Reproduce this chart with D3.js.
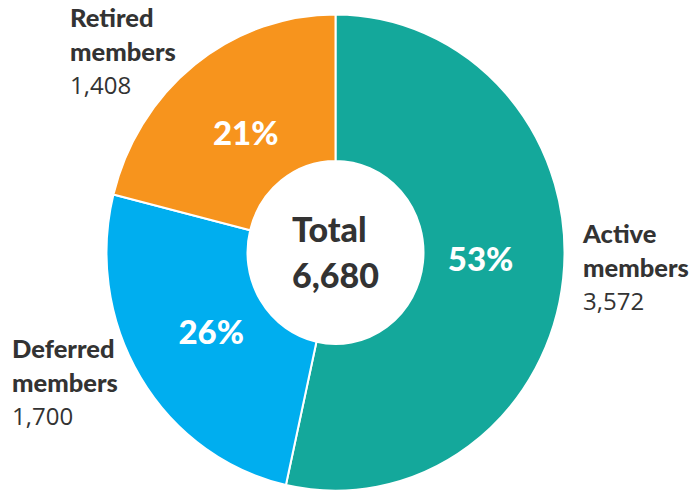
<!DOCTYPE html>
<html>
<head>
<meta charset="utf-8">
<script src="https://cdn.jsdelivr.net/npm/d3@7"></script>
<style>
  html, body { margin: 0; padding: 0; background: #fff; }
  svg { display: block; font-family: Lato, "Open Sans", sans-serif; }
</style>
</head>
<body>
<svg id="chart" width="693" height="492"></svg>
<script>
// ---- data ----
const categories = ["Active members", "Deferred members", "Retired members"];
const values = [3572, 1700, 1408];
const percentLabels = ["53%", "26%", "21%"];
const valueLabels = ["3,572", "1,700", "1,408"];
const colors = ["#14a89b", "#00aeef", "#f7941d"];
const totalLabel = ["Total", "6,680"];

// ---- layout ----
const svg = d3.select("#chart");
const cx = 335.5, cy = 252.5, sy = 1.04;
const outerR = 229, innerR = 88;

const pie = d3.pie().sort(null).value(d => d)(values);
const arc = d3.arc().innerRadius(innerR).outerRadius(outerR);
const labelArc = d3.arc().innerRadius(146).outerRadius(146);

const g = svg.append("g").attr("transform", `translate(${cx},${cy}) scale(1,${sy})`);
g.selectAll("path").data(pie).join("path")
  .attr("d", arc)
  .attr("fill", (d, i) => colors[i])
  .attr("stroke", "#fff")
  .attr("stroke-width", 2)
  .attr("stroke-linejoin", "round");

// percent labels
svg.append("g").selectAll("text").data(pie).join("text")
  .attr("x", d => cx + labelArc.centroid(d)[0])
  .attr("y", (d, i) => cy + labelArc.centroid(d)[1] * sy - (i === 0 ? 10 : 0))
  .attr("text-anchor", "middle")
  .attr("dy", "0.36em")
  .attr("fill", "#fff")
  .attr("font-weight", 900)
  .attr("font-size", 33)
  .text((d, i) => percentLabels[i]);

// center total
const tg = svg.append("g").attr("fill", "#333333").attr("font-weight", 900).attr("font-size", 34);
tg.append("text").attr("x", 292).attr("y", 242).text(totalLabel[0]);
tg.append("text").attr("x", 292).attr("y", 288).text(totalLabel[1]);

// category labels
const labelPos = [
  { x: 583, y: 243 },
  { x: 12, y: 358 },
  { x: 70, y: 27 }
];
const lg = svg.append("g").attr("fill", "#333333");
categories.forEach((c, i) => {
  const words = c.split(" ");
  const p = labelPos[i];
  const t = lg.append("text").attr("x", p.x).attr("y", p.y).attr("font-size", 25.5);
  t.append("tspan").attr("x", p.x).attr("font-weight", 900).text(words[0]);
  t.append("tspan").attr("x", p.x).attr("dy", 33.5).attr("font-weight", 900).text(words[1]);
  t.append("tspan").attr("x", p.x).attr("dy", 33.5).attr("font-weight", 400)
    .attr("font-family", "'Open Sans', Lato, sans-serif").attr("font-size", 24).text(valueLabels[i]);
});
</script>
</body>
</html>
